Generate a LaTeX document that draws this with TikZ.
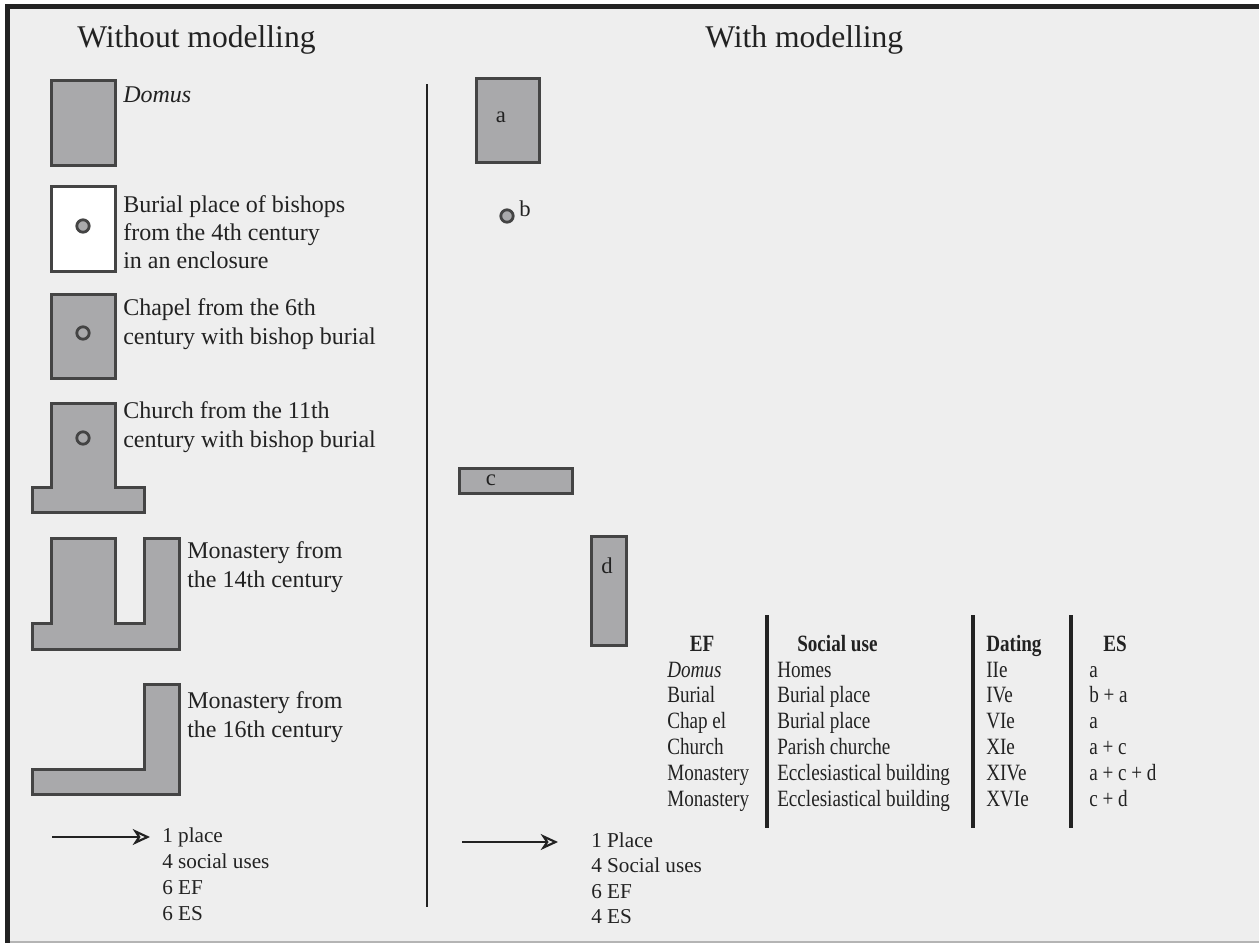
\documentclass[tikz,border=0pt]{standalone}
\usepackage{fontspec}
\setmainfont{Liberation Serif}
\newfontfamily\condfont{Liberation Serif}[FakeStretch=0.82]
\usetikzlibrary{arrows.meta}
\definecolor{bgcol}{HTML}{EEEEEE}
\definecolor{framecol}{HTML}{222222}
\definecolor{lowcol}{HTML}{B4B4B4}
\definecolor{bldgfill}{HTML}{A9A9AB}
\definecolor{bldgdraw}{HTML}{444444}
\definecolor{txt}{HTML}{222222}
\tikzset{
  bldg/.style={draw=bldgdraw, fill=bldgfill, line width=2.25pt, line join=miter},
  ring/.style={draw=bldgdraw, fill=bldgfill, line width=2.1pt},
  title/.style={inner sep=0pt, text=txt, font=\fontsize{23.7pt}{28pt}\selectfont, anchor=base west},
  desc/.style={inner sep=0pt, text=txt, font=\fontsize{18pt}{21.5pt}\selectfont, anchor=base west},
  lbl/.style={inner sep=0pt, text=txt, font=\fontsize{17pt}{20pt}\selectfont},
  tab/.style={inner sep=0pt, text=txt, font=\condfont\fontsize{17.5pt}{20pt}\selectfont, anchor=base west},
  tabhead/.style={inner sep=0pt, text=txt, font=\condfont\bfseries\fontsize{17.5pt}{20pt}\selectfont, anchor=base west},
  summ/.style={inner sep=0pt, text=txt, font=\fontsize{15.9pt}{19pt}\selectfont, anchor=base west},
  rule/.style={draw=framecol, line width=3pt},
  divider/.style={draw=framecol, line width=1.5pt},
  arr/.style={draw=framecol, line width=1.3pt, -{Stealth[open, length=13pt, width=12pt, inset=4pt, line width=1.6pt]}}
}
\begin{document}
\begin{tikzpicture}[x=0.75pt, y=-0.75pt]
\useasboundingbox (0,0) rectangle (1259,943);
% frame
\fill[white] (0,0) rectangle (1259,943);
\fill[bgcol] (5,4) rectangle (1259,943);
\draw[lowcol, line width=1.5pt] (5,941.5) -- (1259,941.5);
\draw[framecol, line width=3.75pt] (5,6.5) -- (1259,6.5);
\draw[framecol, line width=3.75pt] (7.5,4) -- (7.5,943);

% titles
\node[title] (tL) at (77,47) {Without modelling};
\node[title] (tR) at (705,47) {With modelling};

% divider
\coordinate (dTop) at (427,84);
\coordinate (dBot) at (427,907);
\draw[divider] (dTop) -- (dBot);

% left column buildings
\draw[bldg] (51.5,80.5) rectangle (115.5,165.5);
\node[desc, font=\itshape\fontsize{18pt}{21.5pt}\selectfont] (domus) at (123,102) {Domus};

\draw[bldg, fill=white] (51.5,186.5) rectangle (115.5,271.5);
\draw[ring] (83,226) circle[radius=6.2];
\node[desc] (bur1) at (123,212) {Burial place of bishops};
\node[desc] (bur2) at (123,240) {from the 4th century};
\node[desc] (bur3) at (123,268) {in an enclosure};

\draw[bldg] (51.5,294.5) rectangle (115.5,378.5);
\draw[ring] (83,333) circle[radius=6.2];
\node[desc] (cha1) at (123,315) {Chapel from the 6th};
\node[desc] (cha2) at (123,344) {century with bishop burial};

\draw[bldg] (51.5,403.5) -- (115.5,403.5) -- (115.5,487.5) -- (144.5,487.5) -- (144.5,512.5)
  -- (32.5,512.5) -- (32.5,487.5) -- (51.5,487.5) -- cycle;
\draw[ring] (83,438) circle[radius=6.2];
\node[desc] (chu1) at (123,418) {Church from the 11th};
\node[desc] (chu2) at (123,447) {century with bishop burial};

\draw[bldg] (32.5,649.5) -- (179.5,649.5) -- (179.5,538.5) -- (144.5,538.5) -- (144.5,623.5)
  -- (115.5,623.5) -- (115.5,538.5) -- (51.5,538.5) -- (51.5,623.5) -- (32.5,623.5) -- cycle;
\node[desc] (m14a) at (187,558) {Monastery from};
\node[desc] (m14b) at (187,587) {the 14th century};

\draw[bldg] (32.5,794.5) -- (179.5,794.5) -- (179.5,684.5) -- (144.5,684.5) -- (144.5,769.5)
  -- (32.5,769.5) -- cycle;
\node[desc] (m16a) at (187,708) {Monastery from};
\node[desc] (m16b) at (187,737) {the 16th century};

% left summary
\coordinate (aL1) at (52,837);
\coordinate (aL2) at (150,837);
\draw[arr] (aL1) -- (aL2);
\node[summ] (sL1) at (162,842) {1 place};
\node[summ] (sL2) at (162,868) {4 social uses};
\node[summ] (sL3) at (162,894) {6 EF};
\node[summ] (sL4) at (162,920) {6 ES};

% right column elements
\draw[bldg] (476.5,78.5) rectangle (539.5,162.5);
\node[lbl] (la) at (501,117) {a};
\draw[ring] (507,216) circle[radius=6.2];
\node[lbl] (lb) at (525,209) {b};
\draw[bldg] (459.5,468.5) rectangle (572.5,493.5);
\node[lbl] (lc) at (491,480) {c};
\draw[bldg] (591.5,536.5) rectangle (626.5,645.5);
\node[lbl] (ld) at (607,566) {d};

% table
\coordinate (v1t) at (767,615); \coordinate (v1b) at (767,828);
\coordinate (v2t) at (973,615); \coordinate (v2b) at (973,828);
\coordinate (v3t) at (1071,615); \coordinate (v3b) at (1071,828);
\draw[rule] (v1t) -- (v1b);
\draw[rule] (v2t) -- (v2b);
\draw[rule] (v3t) -- (v3b);

\node[tabhead, anchor=base] (hEF) at (702,651) {EF};
\node[tabhead] (hSU) at (797,651) {Social use};
\node[tabhead] (hDA) at (986,651) {Dating};
\node[tabhead, anchor=base] (hES) at (1115,651) {ES};

\node[tab] (e1) at (667,677) {\itshape Domus};
\node[tab] (e2) at (667,702) {Burial};
\node[tab] (e3) at (667,728) {Chap el};
\node[tab] (e4) at (667,754) {Church};
\node[tab] (e5) at (667,780) {Monastery};
\node[tab] (e6) at (667,806) {Monastery};

\node[tab] (s1) at (777,677) {Homes};
\node[tab] (s2) at (777,702) {Burial place};
\node[tab] (s3) at (777,728) {Burial place};
\node[tab] (s4) at (777,754) {Parish churche};
\node[tab] (s5) at (777,780) {Ecclesiastical building};
\node[tab] (s6) at (777,806) {Ecclesiastical building};

\node[tab] (d1) at (986,677) {IIe};
\node[tab] (d2) at (986,702) {IVe};
\node[tab] (d3) at (986,728) {VIe};
\node[tab] (d4) at (986,754) {XIe};
\node[tab] (d5) at (986,780) {XIVe};
\node[tab] (d6) at (986,806) {XVIe};

\node[tab] (x1) at (1089,677) {a};
\node[tab] (x2) at (1089,702) {b + a};
\node[tab] (x3) at (1089,728) {a};
\node[tab] (x4) at (1089,754) {a + c};
\node[tab] (x5) at (1089,780) {a + c + d};
\node[tab] (x6) at (1089,806) {c + d};

% right summary
\coordinate (aR1) at (462,842);
\coordinate (aR2) at (558,842);
\draw[arr] (aR1) -- (aR2);
\node[summ] (sR1) at (591,847) {1 Place};
\node[summ] (sR2) at (591,872) {4 Social uses};
\node[summ] (sR3) at (591,898) {6 EF};
\node[summ] (sR4) at (591,923) {4 ES};
\end{tikzpicture}
\end{document}
